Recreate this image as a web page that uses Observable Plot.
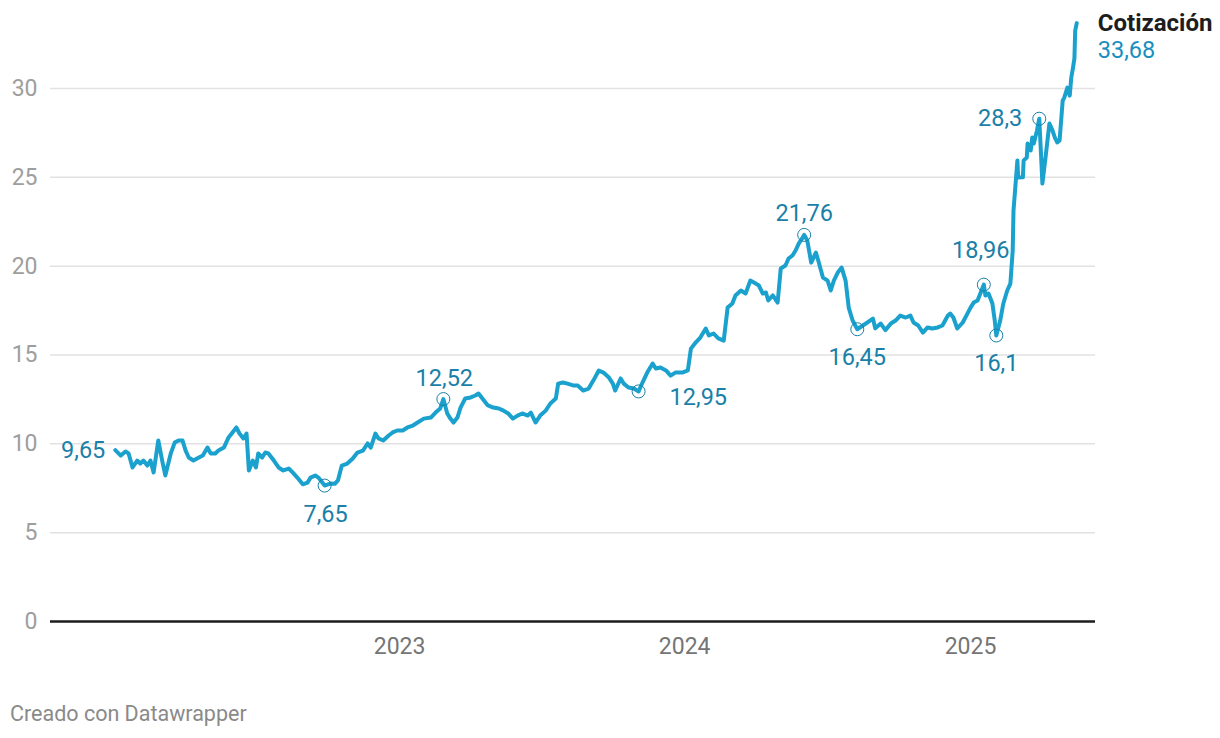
<!DOCTYPE html>
<html>
<head>
<meta charset="utf-8">
<script src="https://cdn.jsdelivr.net/npm/d3@7"></script>
<script src="https://cdn.jsdelivr.net/npm/@observablehq/plot@0.6"></script>
<style>
  html, body { margin: 0; padding: 0; background: #fff; }
  body { width: 1220px; height: 738px; position: relative; overflow: hidden; font-family: Roboto, sans-serif; }
  #chart { position: absolute; left: 0; top: 0; }
  #caption { position: absolute; left: 10px; top: 701px; font-size: 21.5px; color: #8a8a8a; font-family: Roboto, sans-serif; }
</style>
</head>
<body>
<div id="chart"></div>
<div id="caption">Creado con Datawrapper</div>
<script>
const dates = [
"2022-01-02","2022-01-09","2022-01-15","2022-01-19","2022-01-24","2022-01-30","2022-02-03","2022-02-07","2022-02-12","2022-02-16",
"2022-02-20","2022-02-26","2022-03-03","2022-03-07","2022-03-14","2022-03-19","2022-03-24","2022-03-29","2022-04-02","2022-04-06",
"2022-04-12","2022-04-19","2022-04-24","2022-04-30","2022-05-04","2022-05-10","2022-05-14","2022-05-21","2022-05-27","2022-06-01",
"2022-06-06","2022-06-10","2022-06-15","2022-06-19","2022-06-22","2022-06-27","2022-07-01","2022-07-04","2022-07-09","2022-07-13",
"2022-07-17","2022-07-24","2022-07-30","2022-08-05","2022-08-12","2022-08-17","2022-08-23","2022-08-30","2022-09-05","2022-09-09",
"2022-09-15","2022-09-19","2022-09-24","2022-09-27","2022-10-05","2022-10-10","2022-10-14","2022-10-19","2022-10-26","2022-11-02",
"2022-11-08","2022-11-15","2022-11-21","2022-11-25","2022-12-01","2022-12-05","2022-12-11","2022-12-18","2022-12-23","2022-12-29",
"2023-01-05","2023-01-11","2023-01-18","2023-01-24","2023-02-01","2023-02-10","2023-02-16","2023-02-22","2023-02-26","2023-03-03",
"2023-03-07","2023-03-11","2023-03-16","2023-03-20","2023-03-26","2023-04-02","2023-04-08","2023-04-12","2023-04-17","2023-04-24",
"2023-05-01","2023-05-08","2023-05-14","2023-05-20","2023-05-26","2023-06-01","2023-06-07","2023-06-14","2023-06-18","2023-06-24",
"2023-06-30","2023-07-07","2023-07-13","2023-07-20","2023-07-23","2023-07-29","2023-08-04","2023-08-12","2023-08-17","2023-08-24",
"2023-08-31","2023-09-06","2023-09-13","2023-09-19","2023-09-26","2023-10-01","2023-10-04","2023-10-11","2023-10-15","2023-10-21",
"2023-10-28","2023-11-03","2023-11-08","2023-11-14","2023-11-21","2023-11-25","2023-12-01","2023-12-08","2023-12-14","2023-12-20",
"2023-12-29","2024-01-05","2024-01-09","2024-01-15","2024-01-21","2024-01-28","2024-02-01","2024-02-07","2024-02-13","2024-02-20",
"2024-02-25","2024-03-02","2024-03-06","2024-03-13","2024-03-19","2024-03-25","2024-04-01","2024-04-05","2024-04-10","2024-04-14",
"2024-04-17","2024-04-23","2024-04-29","2024-05-03","2024-05-09","2024-05-13","2024-05-18","2024-05-22","2024-05-26","2024-05-31",
"2024-06-02","2024-06-06","2024-06-11","2024-06-17","2024-06-20","2024-06-26","2024-07-02","2024-07-06","2024-07-10","2024-07-15",
"2024-07-20","2024-07-25","2024-07-29","2024-08-03","2024-08-09","2024-08-16","2024-08-22","2024-08-29","2024-09-01","2024-09-08",
"2024-09-14","2024-09-21","2024-09-27","2024-10-03","2024-10-10","2024-10-16","2024-10-20","2024-10-26","2024-11-01","2024-11-07",
"2024-11-13","2024-11-20","2024-11-26","2024-12-03","2024-12-06","2024-12-10","2024-12-15","2024-12-22","2024-12-28","2025-01-01",
"2025-01-05","2025-01-10","2025-01-14","2025-01-18","2025-01-20","2025-01-24","2025-01-29","2025-02-01","2025-02-03","2025-02-08",
"2025-02-12","2025-02-17","2025-02-21","2025-02-24","2025-02-25","2025-03-02","2025-03-03","2025-03-09","2025-03-10","2025-03-14",
"2025-03-15","2025-03-19","2025-03-21","2025-03-23","2025-03-27","2025-03-30","2025-04-01","2025-04-03","2025-04-07","2025-04-12",
"2025-04-16","2025-04-19","2025-04-22","2025-04-25","2025-04-29","2025-05-01","2025-05-05","2025-05-08","2025-05-10","2025-05-12",
"2025-05-14","2025-05-15","2025-05-17"
];
const prices = [
9.65,9.34,9.57,9.46,8.67,9.06,8.89,9.06,8.78,9.06,
8.39,10.19,9.06,8.22,9.46,10.07,10.19,10.19,9.62,9.23,
9.06,9.23,9.34,9.79,9.46,9.46,9.62,9.79,10.36,10.64,
10.92,10.58,10.30,10.58,8.50,9.06,8.67,9.46,9.23,9.51,
9.46,9.06,8.67,8.50,8.61,8.39,8.10,7.72,7.82,8.10,
8.22,8.10,7.82,7.65,7.77,7.75,7.94,8.78,8.89,9.17,
9.51,9.62,10.02,9.79,10.58,10.30,10.19,10.47,10.64,10.75,
10.75,10.92,11.03,11.20,11.42,11.48,11.76,11.99,12.52,11.71,
11.42,11.20,11.48,12.04,12.55,12.61,12.72,12.83,12.55,12.16,
12.04,11.99,11.87,11.71,11.42,11.59,11.71,11.59,11.76,11.20,
11.59,11.87,12.27,12.55,13.39,13.45,13.39,13.28,13.28,13.00,
13.11,13.56,14.13,14.01,13.73,13.39,13.00,13.68,13.39,13.17,
13.11,12.95,13.45,14.01,14.52,14.24,14.30,14.13,13.84,14.01,
14.01,14.13,15.36,15.70,15.98,16.49,16.10,16.21,15.93,15.81,
17.67,17.90,18.35,18.63,18.46,19.19,19.02,18.91,18.46,18.52,
18.07,18.35,17.95,19.87,20.04,20.43,20.60,20.88,21.27,21.61,
21.76,21.44,20.20,20.77,20.32,19.36,19.19,18.63,19.19,19.64,
19.92,19.19,17.67,16.94,16.45,16.66,16.83,17.05,16.50,16.77,
16.40,16.77,16.94,17.22,17.11,17.22,16.83,16.66,16.26,16.55,
16.49,16.55,16.66,17.22,17.33,17.11,16.49,16.83,17.33,17.67,
17.95,18.07,18.52,18.96,18.35,18.46,17.90,16.94,16.10,16.94,
17.90,18.63,19.02,20.88,23.13,25.95,24.99,25.00,25.95,26.11,
26.90,26.51,27.24,26.90,27.63,28.30,26.51,24.65,26.11,28.03,
27.63,27.24,26.96,27.07,29.32,29.49,30.05,29.60,30.62,31.12,
31.69,33.26,33.68
];
const yTicks = [0, 5, 10, 15, 20, 25, 30];
const xTicks = ["2023-01-01", "2024-01-01", "2025-01-01"];
const annLabels = ["9,65", "7,65", "12,52", "12,95", "21,76", "16,45", "18,96", "16,1", "28,3"];
const annDates = ["2022-01-02", "2022-09-27", "2023-02-26", "2023-11-03", "2024-06-02", "2024-08-09", "2025-01-18", "2025-02-03", "2025-03-30"];
const annValues = [9.65, 7.65, 12.52, 12.95, 21.76, 16.45, 18.96, 16.1, 28.3];
const seriesName = "Cotización";
const lastLabel = "33,68";

const data = dates.map((d, i) => ({date: new Date(d), value: prices[i]}));
const ann = annLabels.map((t, i) => ({date: new Date(annDates[i]), value: annValues[i], text: t}));
const last = data[data.length - 1];

const place = [
  {textAnchor: "end", dx: -10, dy: 0},
  {textAnchor: "middle", dx: 1, dy: 29},
  {textAnchor: "middle", dx: 1, dy: -21},
  {textAnchor: "start", dx: 31, dy: 6},
  {textAnchor: "middle", dx: 0, dy: -21},
  {textAnchor: "middle", dx: 0, dy: 28},
  {textAnchor: "middle", dx: -3, dy: -34},
  {textAnchor: "middle", dx: 0, dy: 28},
  {textAnchor: "end", dx: -17, dy: 0}
];

const LINE = "#1aa1cd";
const ANN = "#1a80a8";

const chart = Plot.plot({
  width: 1220,
  height: 690,
  marginTop: 88,
  marginBottom: 69,
  marginLeft: 50,
  marginRight: 125,
  style: {fontFamily: "Roboto, sans-serif", background: "transparent", overflow: "visible"},
  x: {type: "utc", domain: [new Date("2021-10-11"), new Date("2025-06-10")]},
  y: {domain: [0, 30]},
  marks: [
    Plot.ruleY(yTicks.filter(d => d > 0), {stroke: "#e2e2e2", strokeWidth: 1.5}),
    Plot.axisY(yTicks, {tickSize: 0, tickPadding: 13, fontSize: 23, fill: "#9e9e9e", label: null}),
    Plot.axisX(xTicks.map(d => new Date(d)), {tickSize: 0, tickPadding: 16, fontSize: 23, fill: "#757575", tickFormat: d3.utcFormat("%Y"), label: null}),
    Plot.ruleY([0], {stroke: "#1d1d1d", strokeWidth: 2.5}),
    Plot.line(data, {x: "date", y: "value", stroke: LINE, strokeWidth: 4, strokeLinejoin: "round", strokeLinecap: "round"}),
    Plot.dot(ann.slice(1), {x: "date", y: "value", r: 6.5, stroke: ANN, fill: "none", strokeWidth: 1}),
    ...ann.map((a, i) => Plot.text([a], {x: "date", y: "value", text: "text", fontSize: 23.5, fill: ANN, ...place[i]})),
    Plot.text([last], {x: "date", y: "value", text: () => seriesName, textAnchor: "start", dx: 21, dy: 0, fontSize: 24, fontWeight: "bold", fill: "#1d1d1d"}),
    Plot.text([last], {x: "date", y: "value", text: () => lastLabel, textAnchor: "start", dx: 21, dy: 27, fontSize: 23.5, fill: "#1a8fbe"})
  ]
});
document.getElementById("chart").appendChild(chart);
</script>
</body>
</html>
